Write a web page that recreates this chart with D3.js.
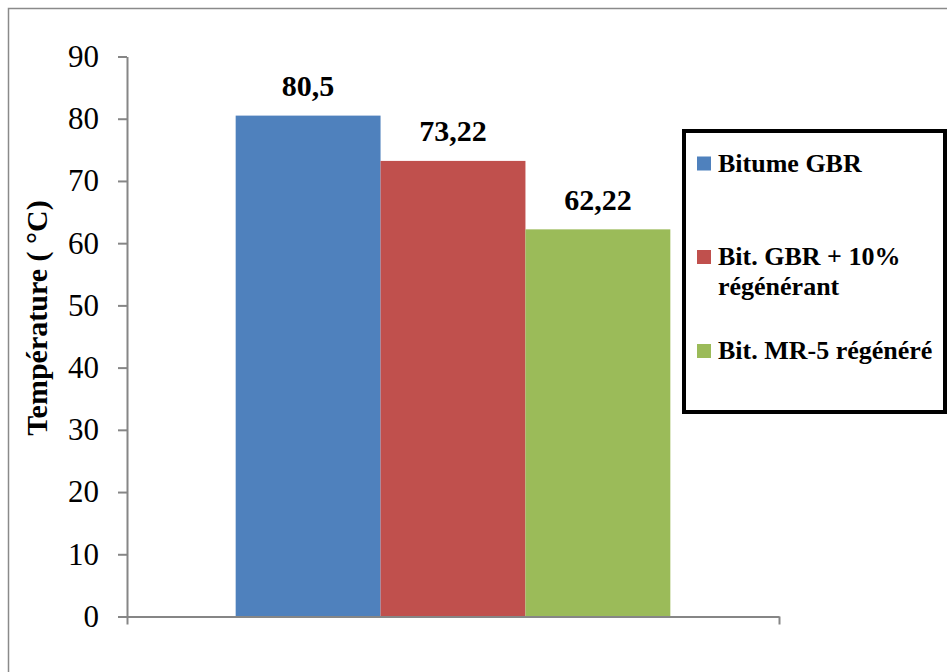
<!DOCTYPE html>
<html>
<head>
<meta charset="utf-8">
<script src="https://cdn.jsdelivr.net/npm/d3@7"></script>
<style>
  html, body { margin: 0; padding: 0; background: #fff; }
  svg { display: block; font-family: "Liberation Serif", "Times New Roman", serif; }
</style>
</head>
<body>
<svg id="chart" width="947" height="672"></svg>
<script>
// Data
const categories = [""];
const seriesNames = ["Bitume GBR", "Bit. GBR + 10% régénérant", "Bit. MR-5 régénéré"];
const seriesLabels = [["Bitume GBR"], ["Bit. GBR + 10%", "régénérant"], ["Bit. MR-5 régénéré"]];
const seriesValues = [80.5, 73.22, 62.22];
const valueLabels = ["80,5", "73,22", "62,22"];
const seriesColors = ["#4F81BD", "#C0504D", "#9BBB59"];
const yTicks = [0, 10, 20, 30, 40, 50, 60, 70, 80, 90];
const yTitle = "Température ( °C)";

const svg = d3.select("#chart");

// Outer frame
svg.append("rect")
  .attr("x", 8.5).attr("y", 8.5)
  .attr("width", 960).attr("height", 700)
  .attr("fill", "none").attr("stroke", "#8a8a8a").attr("stroke-width", 1.5);

const plot = { left: 127, right: 779, top: 56.5, bottom: 616.5 };

const y = d3.scaleLinear().domain([0, 90]).range([plot.bottom, plot.top]);

const x0 = d3.scaleBand().domain(categories)
  .range([plot.left, plot.right]).paddingInner(0.2).paddingOuter(0.2);
const x1 = d3.scaleBand().domain(seriesNames).range([0, x0.bandwidth()]).padding(0);

// Bars with value labels
const g = svg.append("g");
categories.forEach(cat => {
  seriesNames.forEach((s, i) => {
    g.append("rect")
      .attr("x", x0(cat) + x1(s))
      .attr("y", y(seriesValues[i]))
      .attr("width", x1.bandwidth())
      .attr("height", y(0) - y(seriesValues[i]))
      .attr("fill", seriesColors[i]);
    g.append("text")
      .attr("x", x0(cat) + x1(s) + x1.bandwidth() / 2)
      .attr("y", y(seriesValues[i]) - 19.5)
      .attr("text-anchor", "middle")
      .attr("font-weight", "bold")
      .attr("font-size", 30)
      .attr("fill", "#000")
      .text(valueLabels[i]);
  });
});

// Y axis
const yAxis = svg.append("g")
  .attr("transform", `translate(${plot.left},0)`)
  .call(d3.axisLeft(y).tickValues(yTicks).tickSize(9).tickSizeOuter(0).tickPadding(19));
yAxis.selectAll("path, line").attr("stroke", "#868686").attr("stroke-width", 2);
yAxis.selectAll("text").attr("font-size", 31).attr("fill", "#000")
  .attr("font-family", "Liberation Serif, Times New Roman, serif");

// X axis with boundary ticks
const xEdge = d3.scaleLinear().domain([0, categories.length]).range([plot.left, plot.right]);
const xAxis = svg.append("g")
  .attr("transform", `translate(0,${plot.bottom})`)
  .call(d3.axisBottom(xEdge).tickValues(d3.range(0, categories.length + 1))
    .tickFormat(() => "").tickSize(8).tickSizeOuter(0));
xAxis.selectAll("path, line").attr("stroke", "#868686").attr("stroke-width", 2);

// Y axis title
svg.append("text")
  .attr("transform", "translate(47,318) rotate(-90)")
  .attr("text-anchor", "middle")
  .attr("font-weight", "bold")
  .attr("font-size", 30)
  .attr("fill", "#000")
  .text(yTitle);

// Legend
const legend = svg.append("g");
legend.append("rect")
  .attr("x", 684).attr("y", 131).attr("width", 261).attr("height", 281)
  .attr("fill", "#fff").attr("stroke", "#000").attr("stroke-width", 4);
const legendBaselines = [171.5, 265, 359];
seriesNames.forEach((s, i) => {
  legend.append("rect")
    .attr("x", 697).attr("y", legendBaselines[i] - 15)
    .attr("width", 14).attr("height", 14)
    .attr("fill", seriesColors[i]);
  const t = legend.append("text")
    .attr("x", 718).attr("y", legendBaselines[i])
    .attr("font-weight", "bold").attr("font-size", 26).attr("fill", "#000");
  seriesLabels[i].forEach((line, j) => {
    t.append("tspan").attr("x", 718).attr("dy", j === 0 ? 0 : 30).text(line);
  });
});
</script>
</body>
</html>
